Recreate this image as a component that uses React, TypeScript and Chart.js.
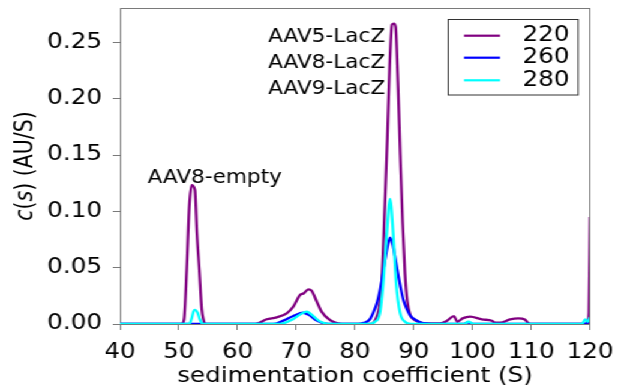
import React, { useEffect, useRef } from "react";
import { Chart, registerables } from "chart.js";

Chart.register(...registerables);

// ---- data ----
const wavelengths = ["220", "260", "280"];
const lineColors = ["#800080", "#0000ff", "#00ffff"];

const s220X = [40, 50.5, 50.9, 51.35, 51.8, 52.2, 52.75, 53.1, 53.5, 53.9, 54.2, 54.5, 63.0, 64.97, 66.67, 68.37, 69.5, 70.64, 71.3, 72.06, 72.6, 73.5, 74.3, 75.7, 76.9, 77.8, 82.5, 83.5, 84.2, 84.6, 85.0, 85.5, 85.9, 86.3, 86.6, 86.9, 87.3, 87.7, 88.1, 88.5, 88.9, 89.4, 90.0, 91.0, 92.0, 94.5, 95.6, 96.85, 97.4, 98.3, 99.6, 101.6, 103.3, 103.8, 104.7, 106.4, 107.8, 108.9, 109.5, 110, 119.5, 119.8, 120];
const s220Y = [0, 0, 0.004, 0.048, 0.105, 0.1234, 0.119, 0.08, 0.048, 0.014, 0.004, 0, 0, 0.0042, 0.0059, 0.0095, 0.0154, 0.0258, 0.0273, 0.0308, 0.0296, 0.0198, 0.011, 0.0036, 0.0008, 0, 0, 0.004, 0.018, 0.042, 0.095, 0.165, 0.23, 0.266, 0.2668, 0.264, 0.215, 0.15, 0.09, 0.045, 0.02, 0.008, 0.004, 0.0015, 0.0005, 0.0005, 0.0027, 0.007, 0.002, 0.005, 0.0065, 0.0041, 0.0029, 0.0012, 0.0012, 0.0041, 0.005, 0.004, 0.0007, 0, 0, 0.01, 0.095];

const s260X = [40, 66.0, 67.8, 69.5, 71.2, 72.06, 73.5, 74.6, 75.5, 80.5, 81.5, 82.5, 83.1, 83.8, 84.5, 85.0, 85.5, 85.96, 86.4, 86.8, 87.3, 87.7, 88.2, 88.8, 89.4, 90.2, 91.1, 92.5, 93.5, 98.5, 99.2, 100, 119.2, 119.6, 120];
const s260Y = [0, 0, 0.003, 0.0071, 0.01, 0.0083, 0.003, 0.0007, 0, 0, 0.001, 0.004, 0.01, 0.02, 0.037, 0.053, 0.068, 0.0767, 0.071, 0.06, 0.045, 0.034, 0.022, 0.0135, 0.0075, 0.004, 0.0015, 0.0003, 0, 0, 0.0015, 0, 0, 0.002, 0.001];

const s280X = [40, 51.8, 52.2, 52.5, 52.8, 53.2, 53.6, 54.1, 67.2, 69.5, 70.64, 71.8, 72.6, 73.8, 74.9, 76.0, 82.5, 83.4, 84.25, 84.8, 85.4, 85.96, 86.5, 87.0, 87.66, 88.5, 89.5, 98.5, 99.3, 100.3, 118.6, 119.2, 119.6, 120];
const s280Y = [0, 0, 0.005, 0.011, 0.0125, 0.01, 0.004, 0, 0, 0.0045, 0.0083, 0.011, 0.0083, 0.003, 0.0006, 0, 0, 0.002, 0.01, 0.036, 0.08, 0.111, 0.08, 0.036, 0.01, 0.002, 0, 0, 0.002, 0, 0, 0.004, 0.002, 0.006];

const seriesX = [s220X, s260X, s280X];
const seriesY = [s220Y, s260Y, s280Y];

const xTitle = "sedimentation coefficient (S)";
const peakLabels = ["AAV5-LacZ", "AAV8-LacZ", "AAV9-LacZ"];
const emptyLabel = "AAV8-empty";

const FONT = "'DejaVu Sans', 'Liberation Sans', sans-serif";
const FRAME = "#7a7a7a";

const zeroPad = (s: any) => {
  s.paddingTop = 0;
  s.paddingBottom = 0;
  s.paddingLeft = 0;
  s.paddingRight = 0;
};

const drawNarrow = (ctx: CanvasRenderingContext2D, t: string, x: number, y: number, align: CanvasTextAlign) => {
  ctx.save();
  ctx.translate(x, y);
  ctx.scale(0.9, 1);
  ctx.textAlign = align;
  ctx.fillText(t, 0, 0);
  ctx.restore();
};

const overlay = {
  id: "overlay",
  afterDraw(chart: any) {
    const ctx = chart.ctx as CanvasRenderingContext2D;
    const a = chart.chartArea;
    ctx.save();
    // top & right spines
    ctx.strokeStyle = FRAME;
    ctx.lineWidth = 1;
    ctx.beginPath();
    ctx.moveTo(a.left, Math.round(a.top) + 0.5);
    ctx.lineTo(a.right, Math.round(a.top) + 0.5);
    ctx.moveTo(Math.round(a.right) - 0.5, a.top);
    ctx.lineTo(Math.round(a.right) - 0.5, a.bottom);
    ctx.stroke();

    // annotations
    ctx.fillStyle = "#000";
    ctx.font = `20px ${FONT}`;
    ctx.textBaseline = "alphabetic";
    const baselines = [41.7, 67.7, 93.5];
    peakLabels.forEach((t, i) => drawNarrow(ctx, t, 321, baselines[i], "right"));
    drawNarrow(ctx, emptyLabel, 123, 182.5, "left");

    // legend
    ctx.strokeStyle = "#333";
    ctx.lineWidth = 1;
    ctx.strokeRect(373.5, 19.5, 108.3, 75.5);
    const rows = [35.7, 57.7, 80.3];
    ctx.font = `20.5px ${FONT}`;
    ctx.textBaseline = "middle";
    ctx.textAlign = "left";
    chart.data.datasets.forEach((ds: any, i: number) => {
      ctx.strokeStyle = ds.borderColor;
      ctx.lineWidth = 2.2;
      ctx.beginPath();
      ctx.moveTo(386.7, rows[i]);
      ctx.lineTo(416.7, rows[i]);
      ctx.stroke();
      ctx.fillStyle = "#000";
      ctx.fillText(ds.label, 435.5, rows[i]);
    });

    // y title with italic c(s)
    const parts: [string, boolean][] = [["c", true], ["(", false], ["s", true], [")", false], [" (AU/S)", false]];
    const fontFor = (it: boolean) => `${it ? "oblique " : ""}20.5px ${FONT}`;
    let total = 0;
    parts.forEach(([t, it]) => { ctx.font = fontFor(it); total += ctx.measureText(t).width; });
    ctx.translate(21.5, (a.top + a.bottom) / 2);
    ctx.rotate(-Math.PI / 2);
    ctx.textBaseline = "middle";
    ctx.textAlign = "left";
    let px = -total / 2;
    parts.forEach(([t, it]) => {
      ctx.font = fontFor(it);
      ctx.fillText(t, px, 0);
      px += ctx.measureText(t).width;
    });
    ctx.restore();
  },
};

export default function App() {
  const ref = useRef<HTMLCanvasElement | null>(null);
  useEffect(() => {
    if (!ref.current) return;
    const datasets = wavelengths.map((w, i) => ({
      label: w,
      data: seriesX[i].map((x, j) => ({ x, y: seriesY[i][j] })),
      borderColor: lineColors[i],
      backgroundColor: lineColors[i],
      borderWidth: 2.3,
      pointRadius: 0,
      cubicInterpolationMode: "monotone" as const,
      fill: false,
      order: wavelengths.length - 1 - i,
    }));
    const chart = new Chart(ref.current, {
      type: "line",
      data: { datasets },
      options: {
        responsive: false,
        animation: false,
        devicePixelRatio: 1,
        layout: { padding: { left: 0, top: 8, right: 23.3, bottom: 0 } },
        plugins: { legend: { display: false }, tooltip: { enabled: false } },
        scales: {
          x: {
            type: "linear",
            min: 40,
            max: 120,
            afterFit: (s: any) => { s.height = 66; zeroPad(s); },
            ticks: { stepSize: 10, color: "#000", padding: 10, font: { family: FONT, size: 20.5 }, maxRotation: 0, includeBounds: false },
            grid: { display: true, drawOnChartArea: false, drawTicks: true, tickLength: 6, color: FRAME },
            border: { display: true, color: FRAME, width: 1 },
            title: { display: true, text: xTitle, color: "#000", font: { family: FONT, size: 20.5 }, padding: { top: 0, bottom: 1 } },
          },
          y: {
            type: "linear",
            min: 0,
            max: 0.2806,
            afterFit: (s: any) => { s.width = 100; zeroPad(s); },
            ticks: { stepSize: 0.05, color: "#000", padding: 9, font: { family: FONT, size: 20.5 }, includeBounds: false, callback: (v: any) => Number(v).toFixed(2) },
            grid: { display: true, drawOnChartArea: false, drawTicks: true, tickLength: 6, color: FRAME },
            border: { display: true, color: FRAME, width: 1 },
          },
        },
      },
      plugins: [overlay],
    });
    return () => chart.destroy();
  }, []);
  return (
    <div style={{ position: "fixed", left: 0, top: 0, width: 515, height: 390, transform: "scaleX(1.2)", transformOrigin: "0 0", background: "#fff" }}>
      <canvas ref={ref} width={515} height={390} />
    </div>
  );
}
